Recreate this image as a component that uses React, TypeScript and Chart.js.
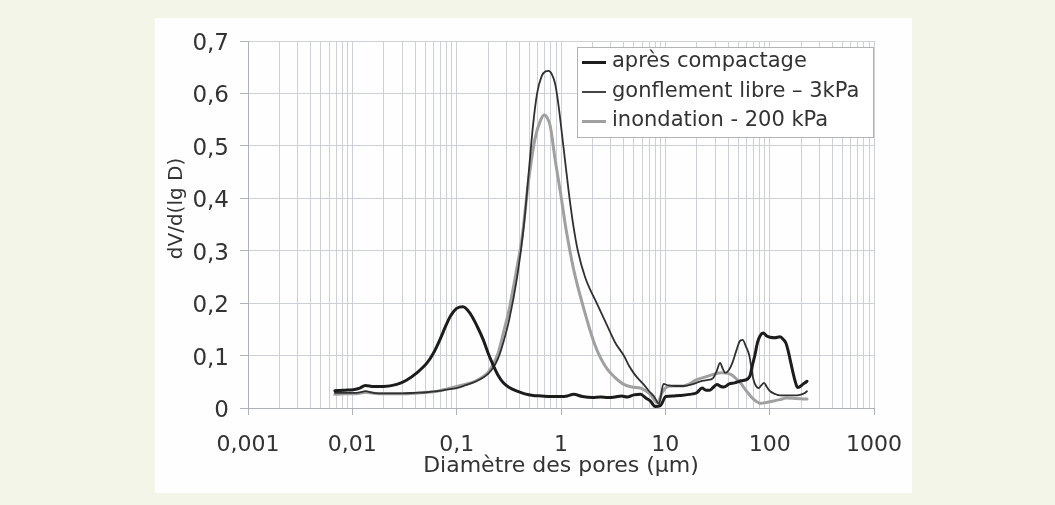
import React, { useEffect, useRef } from 'react';
import { Chart, registerables } from 'chart.js';

Chart.register(...registerables);

// ---- data ----
const seriesLabels = ['après compactage', 'gonflement libre – 3kPa', 'inondation - 200 kPa'];

const compactD = [0.0068, 0.0085, 0.0102, 0.0118, 0.0133, 0.016, 0.02, 0.0267, 0.033, 0.0415, 0.052, 0.06, 0.069, 0.078, 0.087, 0.1, 0.115, 0.134, 0.157, 0.18, 0.2, 0.226, 0.25, 0.28, 0.32, 0.38, 0.45, 0.54, 0.65, 0.79, 1.0, 1.15, 1.32, 1.6, 2.0, 2.4, 2.8, 3.3, 3.8, 4.3, 5.0, 5.8, 6.5, 7.2, 8.0, 9.0, 10.1, 12, 14, 17, 20, 22.5, 24.5, 26.7, 29, 31.2, 34, 36.5, 41, 46, 53, 61, 65, 68, 72, 76.5, 81, 87, 93, 101, 112, 126, 136, 143, 150, 158, 165, 175, 185, 196, 207, 218, 228];
const compactV = [0.033, 0.034, 0.035, 0.038, 0.043, 0.041, 0.041, 0.045, 0.053, 0.067, 0.086, 0.105, 0.13, 0.155, 0.175, 0.19, 0.193, 0.181, 0.156, 0.13, 0.105, 0.08, 0.062, 0.048, 0.039, 0.032, 0.027, 0.024, 0.023, 0.022, 0.022, 0.023, 0.026, 0.022, 0.020, 0.021, 0.020, 0.021, 0.023, 0.021, 0.025, 0.026, 0.019, 0.013, 0.003, 0.005, 0.022, 0.023, 0.024, 0.026, 0.029, 0.038, 0.034, 0.034, 0.040, 0.045, 0.041, 0.040, 0.046, 0.048, 0.052, 0.055, 0.062, 0.080, 0.100, 0.125, 0.138, 0.143, 0.138, 0.135, 0.134, 0.136, 0.130, 0.124, 0.110, 0.090, 0.073, 0.052, 0.039, 0.041, 0.045, 0.048, 0.051];

const gonflD = [0.0068, 0.0085, 0.0102, 0.0118, 0.0133, 0.016, 0.02, 0.03, 0.04, 0.052, 0.065, 0.08, 0.1, 0.12, 0.15, 0.18, 0.2, 0.226, 0.25, 0.28, 0.32, 0.38, 0.44, 0.49, 0.54, 0.59, 0.65, 0.71, 0.76, 0.82, 0.88, 0.95, 1.06, 1.19, 1.32, 1.45, 1.7, 2.2, 2.8, 3.3, 4.0, 4.5, 5.0, 5.6, 6.2, 7.0, 7.8, 8.7, 9.6, 10.7, 12.5, 14.9, 18, 21.8, 25, 28.7, 31, 33.5, 35.5, 37.6, 40.5, 43.9, 48, 52, 55.2, 59, 64, 67, 70, 74, 78.7, 83, 88.4, 94, 101, 112, 126, 150, 170, 195, 215, 228];
const gonflV = [0.029, 0.029, 0.029, 0.030, 0.032, 0.029, 0.028, 0.028, 0.029, 0.030, 0.032, 0.035, 0.038, 0.043, 0.050, 0.058, 0.065, 0.078, 0.095, 0.125, 0.170, 0.250, 0.346, 0.448, 0.540, 0.600, 0.632, 0.642, 0.643, 0.636, 0.618, 0.575, 0.495, 0.410, 0.345, 0.300, 0.250, 0.200, 0.155, 0.125, 0.100, 0.080, 0.066, 0.054, 0.045, 0.032, 0.022, 0.008, 0.046, 0.043, 0.042, 0.042, 0.045, 0.051, 0.053, 0.057, 0.070, 0.086, 0.075, 0.067, 0.072, 0.086, 0.110, 0.128, 0.130, 0.118, 0.099, 0.075, 0.054, 0.042, 0.038, 0.043, 0.048, 0.040, 0.032, 0.027, 0.024, 0.024, 0.024, 0.025, 0.028, 0.032];

const inondD = [0.0068, 0.0085, 0.0102, 0.0118, 0.0133, 0.016, 0.02, 0.03, 0.04, 0.052, 0.065, 0.08, 0.1, 0.12, 0.15, 0.18, 0.2, 0.226, 0.25, 0.28, 0.32, 0.38, 0.42, 0.49, 0.56, 0.64, 0.69, 0.74, 0.79, 0.88, 0.99, 1.12, 1.32, 1.65, 2.08, 2.4, 2.8, 3.3, 4.0, 4.8, 5.8, 6.5, 7.2, 8.4, 9.3, 10, 11.1, 14.9, 17, 20, 24, 28.7, 35, 42.4, 47, 52.5, 58, 66, 74, 82, 95, 107, 125, 144, 180, 228];
const inondV = [0.026, 0.027, 0.027, 0.028, 0.030, 0.028, 0.027, 0.027, 0.028, 0.030, 0.032, 0.036, 0.041, 0.045, 0.051, 0.060, 0.068, 0.085, 0.105, 0.143, 0.190, 0.270, 0.320, 0.435, 0.511, 0.550, 0.559, 0.553, 0.537, 0.473, 0.410, 0.340, 0.265, 0.190, 0.124, 0.095, 0.073, 0.058, 0.045, 0.040, 0.038, 0.033, 0.026, 0.010, 0.029, 0.038, 0.042, 0.042, 0.046, 0.054, 0.059, 0.064, 0.067, 0.064, 0.057, 0.048, 0.036, 0.022, 0.013, 0.009, 0.011, 0.013, 0.016, 0.019, 0.018, 0.017];

const xTickValues = [0.001, 0.01, 0.1, 1, 10, 100, 1000];
const xTickLabels = ['0,001', '0,01', '0,1', '1', '10', '100', '1000'];
const yTickValues = [0, 0.1, 0.2, 0.3, 0.4, 0.5, 0.6, 0.7];
const yTickLabels = ['0', '0,1', '0,2', '0,3', '0,4', '0,5', '0,6', '0,7'];
const xTitle = 'Diamètre des pores (µm)';
const yTitle = 'dV/d(lg D)';

// ---- styles ----
const FONT = "'DejaVu Sans', 'Liberation Sans', Arial, sans-serif";
const TEXT = '#333333';
const GRID = '#cdd1d6';
const AXIS = '#aeb2b7';
const COLORS = ['#1c1c1c', '#303030', '#a0a0a0'];
const WIDTHS = [3, 1.8, 3];

const toPoints = (d: number[], v: number[]) => {
  const n = Math.min(d.length, v.length);
  const out: { x: number; y: number }[] = [];
  for (let i = 0; i < n; i++) out.push({ x: d[i], y: v[i] });
  return out;
};

const isDecade = (v: number) => Math.abs(Math.log10(v) - Math.round(Math.log10(v))) < 1e-9;

// gridline positions: 1..9 x each decade between the first and last labelled value
const buildLogTicks = () => {
  const ticks: { value: number }[] = [];
  const e0 = Math.round(Math.log10(xTickValues[0]));
  const e1 = Math.round(Math.log10(xTickValues[xTickValues.length - 1]));
  for (let e = e0; e < e1; e++) {
    for (let m = 1; m <= 9; m++) ticks.push({ value: Number((m * Math.pow(10, e)).toPrecision(6)) });
  }
  ticks.push({ value: Math.pow(10, e1) });
  return ticks;
};

const legendPlugin = {
  id: 'boxLegend',
  afterDatasetsDraw(chart: any) {
    const { ctx } = chart;
    const bx = 422, by = 29, bw = 296, bh = 90;
    ctx.save();
    ctx.fillStyle = '#ffffff';
    ctx.fillRect(bx, by, bw, bh);
    ctx.strokeStyle = '#b3b3b3';
    ctx.lineWidth = 1;
    ctx.strokeRect(bx + 0.5, by + 0.5, bw, bh);
    const rows = [44.5, 74, 103.5];
    chart.data.datasets.forEach((ds: any, i: number) => {
      const y = rows[i];
      ctx.beginPath();
      ctx.strokeStyle = ds.borderColor;
      ctx.lineWidth = ds.borderWidth;
      ctx.moveTo(427, y);
      ctx.lineTo(451, y);
      ctx.stroke();
      ctx.fillStyle = TEXT;
      ctx.font = `21px ${FONT}`;
      ctx.textAlign = 'left';
      ctx.textBaseline = 'middle';
      ctx.fillText(ds.label, 457, y - 0.5);
    });
    ctx.restore();
  },
};

const yTitlePlugin = {
  id: 'yTitleText',
  afterDraw(chart: any) {
    const { ctx, chartArea } = chart;
    ctx.save();
    ctx.translate(chartArea.left - 71, (chartArea.top + chartArea.bottom) / 2 - 16);
    ctx.rotate(-Math.PI / 2);
    ctx.fillStyle = TEXT;
    ctx.font = `20px ${FONT}`;
    ctx.textAlign = 'center';
    ctx.textBaseline = 'middle';
    ctx.fillText(yTitle, 0, 0);
    ctx.restore();
  },
};

export default function App() {
  const canvasRef = useRef<HTMLCanvasElement | null>(null);

  useEffect(() => {
    if (!canvasRef.current) return;
    const chart = new Chart(canvasRef.current, {
      type: 'line',
      data: {
        datasets: [
          { label: seriesLabels[0], data: toPoints(compactD, compactV), borderColor: COLORS[0], borderWidth: WIDTHS[0] },
          { label: seriesLabels[1], data: toPoints(gonflD, gonflV), borderColor: COLORS[1], borderWidth: WIDTHS[1] },
          { label: seriesLabels[2], data: toPoints(inondD, inondV), borderColor: COLORS[2], borderWidth: WIDTHS[2] },
        ].map((d) => ({
          ...d,
          pointRadius: 0,
          pointHoverRadius: 0,
          fill: false,
          cubicInterpolationMode: 'monotone' as const,
          borderJoinStyle: 'round' as const,
          borderCapStyle: 'round' as const,
        })),
      },
      options: {
        responsive: false,
        animation: false,
        events: [],
        layout: { padding: { left: 0, right: 38, top: 23, bottom: 0 } },
        plugins: {
          legend: { display: false },
          tooltip: { enabled: false },
          title: { display: false },
        },
        scales: {
          x: {
            type: 'logarithmic',
            min: xTickValues[0],
            max: xTickValues[xTickValues.length - 1],
            afterBuildTicks: (scale: any) => {
              scale.ticks = buildLogTicks();
            },
            afterFit: (scale: any) => {
              scale.height = 85;
              scale.paddingLeft = 0;
              scale.paddingRight = 0;
            },
            ticks: {
              autoSkip: false,
              maxRotation: 0,
              minRotation: 0,
              padding: 17,
              color: TEXT,
              font: { family: FONT, size: 22 },
              callback: (value: any) => {
                const v = Number(value);
                const idx = xTickValues.findIndex((t) => Math.abs(Math.log10(t) - Math.log10(v)) < 1e-9);
                return idx >= 0 ? xTickLabels[idx] : '';
              },
            },
            grid: {
              color: GRID,
              lineWidth: 1,
              drawTicks: true,
              tickLength: 7,
              tickColor: (ctx: any) => (ctx.tick && isDecade(ctx.tick.value) ? AXIS : 'rgba(0,0,0,0)'),
            },
            border: { display: true, color: AXIS, width: 1 },
            title: {
              display: true,
              text: xTitle,
              color: TEXT,
              font: { family: FONT, size: 22 },
              padding: { top: 0, bottom: 14 },
            },
          },
          y: {
            type: 'linear',
            min: yTickValues[0],
            max: yTickValues[yTickValues.length - 1],
            afterFit: (scale: any) => {
              scale.width = 93;
              scale.paddingTop = 0;
              scale.paddingBottom = 0;
            },
            ticks: {
              stepSize: 0.1,
              padding: 11,
              labelOffset: 3,
              color: TEXT,
              font: { family: FONT, size: 23 },
              callback: (value: any) => {
                const idx = yTickValues.findIndex((t) => Math.abs(t - Number(value)) < 1e-6);
                return idx >= 0 ? yTickLabels[idx] : '';
              },
            },
            grid: {
              color: GRID,
              lineWidth: 1,
              drawTicks: true,
              tickLength: 8,
              tickColor: AXIS,
            },
            border: { display: true, color: AXIS, width: 1 },
          },
        },
      } as any,
      plugins: [legendPlugin, yTitlePlugin],
    });
    return () => chart.destroy();
  }, []);

  return (
    <div
      style={{
        position: 'absolute',
        left: 0,
        top: 0,
        width: 1055,
        height: 505,
        background: '#f2f5e8',
        overflow: 'hidden',
      }}
    >
      <div
        style={{
          position: 'absolute',
          left: 155,
          top: 18,
          width: 757,
          height: 475,
          background: '#fefefe',
        }}
      >
        <canvas ref={canvasRef} width={757} height={475} style={{ display: 'block' }} />
      </div>
    </div>
  );
}
